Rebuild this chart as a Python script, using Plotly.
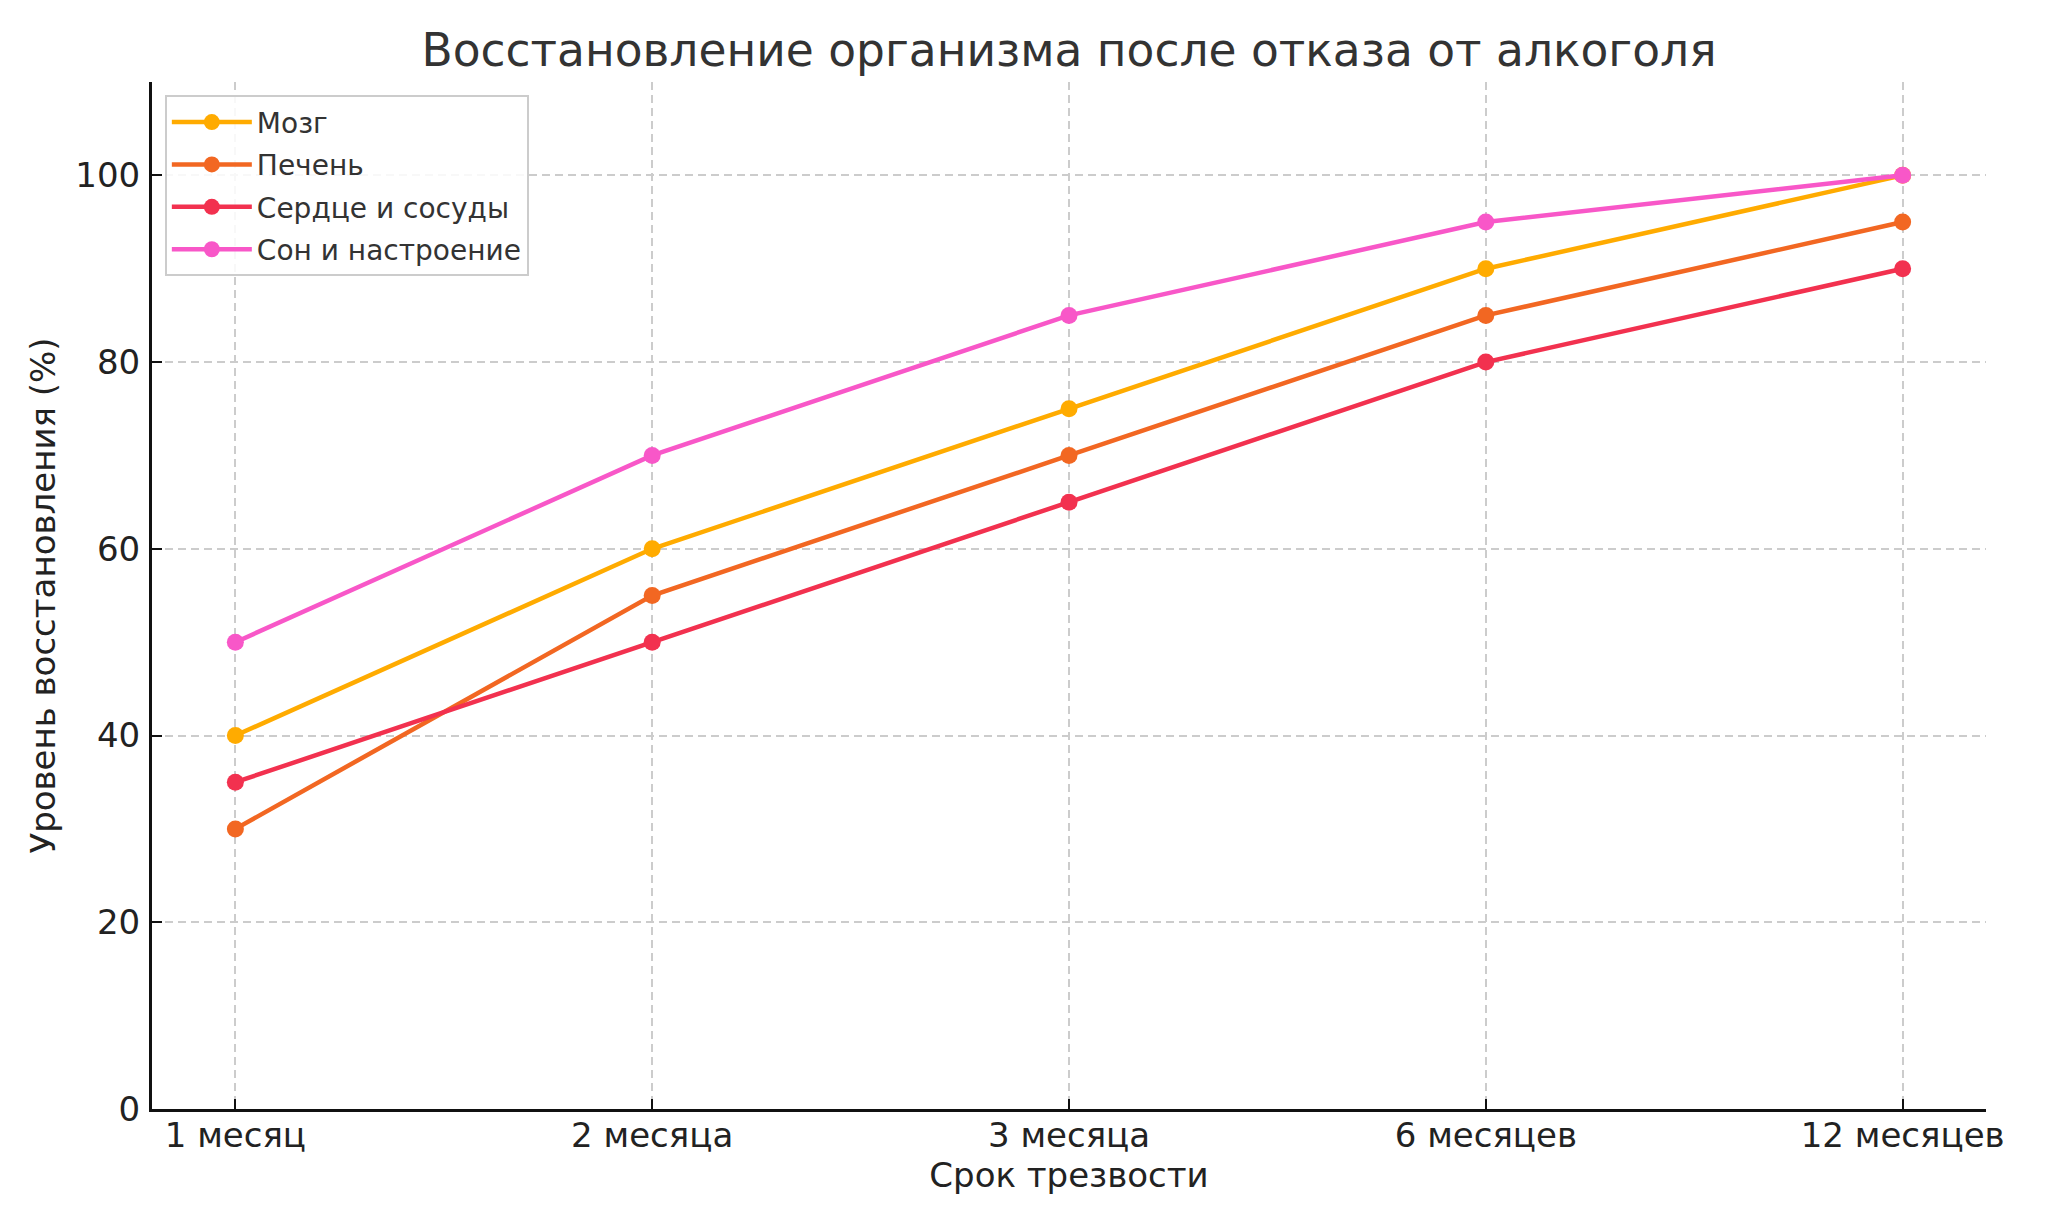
import plotly.graph_objects as go

# data
periods = ["1 месяц", "2 месяца", "3 месяца", "6 месяцев", "12 месяцев"]
brain = [40, 60, 75, 90, 100]
liver = [30, 55, 70, 85, 95]
heart = [35, 50, 65, 80, 90]
sleep = [50, 70, 85, 95, 100]

series = [
    ("Мозг", brain, "#FFAB00"),
    ("Печень", liver, "#F26722"),
    ("Сердце и сосуды", heart, "#F2314F"),
    ("Сон и настроение", sleep, "#F857C8"),
]

fig = go.Figure()
for name, vals, col in series:
    fig.add_trace(go.Scatter(
        x=periods, y=vals, name=name, mode="lines+markers",
        legendgroup=name,
        line=dict(color=col, width=4.5),
        marker=dict(color=col, size=17),
    ))

font_family = "DejaVu Sans"
fig.update_layout(
    width=2048, height=1229,
    paper_bgcolor="white", plot_bgcolor="white",
    margin=dict(l=144, r=70, t=74, b=128),
    font=dict(family=font_family, color="#222222", size=34),
    title=dict(text="Восстановление организма после отказа от алкоголя",
               x=0.5, xref="paper", xanchor="center",
               y=1 - 42 / 1229, yanchor="middle",
               font=dict(size=45.5, color="#333333")),
    legend=dict(x=0.007, y=0.987, xanchor="left", yanchor="top",
                bgcolor="rgba(255,255,255,0.85)", bordercolor="#cccccc",
                borderwidth=2, font=dict(size=28, color="#333333"),
                tracegroupgap=3, itemwidth=80),
    showlegend=True,
)

fig.update_xaxes(
    range=[-0.2, 4.2], type="category",
    showline=True, linecolor="#111111", linewidth=3,
    ticks="inside", ticklen=10, tickwidth=2, tickcolor="#111111",
    showgrid=True, gridcolor="#cccccc", gridwidth=1.5, griddash="8px,5px",
    tickfont=dict(size=34, color="#222222"), ticklabelstandoff=-6,
    title=dict(text="Срок трезвости", font=dict(size=34, color="#222222"), standoff=10),
    zeroline=False,
)
fig.update_yaxes(
    range=[0, 110], tickvals=[0, 20, 40, 60, 80, 100],
    showline=True, linecolor="#111111", linewidth=3,
    ticks="inside", ticklen=10, tickwidth=2, tickcolor="#111111",
    showgrid=True, gridcolor="#cccccc", gridwidth=1.5, griddash="8px,5px",
    tickfont=dict(size=34, color="#222222"), ticklabelstandoff=2,
    title=dict(text="Уровень восстановления (%)", font=dict(size=34, color="#222222"), standoff=10),
    zeroline=False,
)

fig.write_html("out.html")
